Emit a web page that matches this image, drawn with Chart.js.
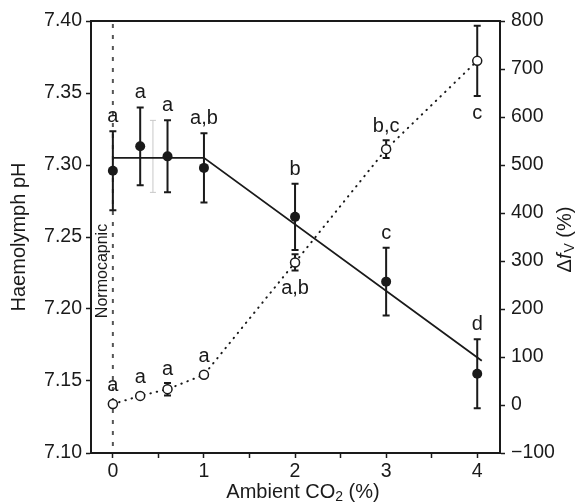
<!DOCTYPE html>
<html lang="en">
<head>
    <meta charset="UTF-8">
    <title>Haemolymph pH and ventilation vs ambient CO2</title>
    <script src="https://cdn.jsdelivr.net/npm/chart.js"></script>
    <style>
        html, body {
            margin: 0;
            padding: 0;
            background: #fff;
        }
        #chart {
            display: block;
        }
    </style>
</head>
<body>
<canvas id="chart" width="581" height="504"></canvas>
<script>
    // ambient CO2 levels (%)
    const co2 = [0, 0.3, 0.6, 1, 2, 3, 4];

    // haemolymph pH (filled circles, left axis)
    const phMean = [7.296, 7.313, 7.306, 7.298, 7.264, 7.219, 7.155];
    const phErr = [0.0275, 0.027, 0.025, 0.024, 0.023, 0.0235, 0.024];
    const phLetters = ['a', 'a', 'a', 'a,b', 'b', 'c', 'd'];

    // broken-line fit through the pH values
    const fitX = [0, 1, 4.05];
    const fitPh = [7.305, 7.305, 7.164];

    // change in ventilation frequency, delta fV (%) (open circles, right axis)
    const fvMean = [2, 19, 33, 63, 297, 533, 717];
    const fvErr = [0, 0, 13, 0, 17, 18.5, 73];
    const fvLetters = ['a', 'a', 'a', 'a', 'a,b', 'b,c', 'c'];
    const fvLetterSide = ['above', 'above', 'above', 'above', 'below', 'above', 'below'];

    // faint grey bar left in the original figure
    const greyBarX = [0.44];
    const greyBarLow = [7.281];
    const greyBarHigh = [7.331];

    const normoX = 0;

    const FONT = "'Liberation Sans', Arial, Helvetica, sans-serif";
    const INK = '#1a1a1a';

    const overlay = {
        id: 'overlay',
        beforeDatasetsDraw(chart) {
            const {ctx, chartArea: a, scales} = chart;
            const x = scales.x, y = scales.y, y2 = scales.y2;
            ctx.save();

            // normocapnic reference line
            const nx = x.getPixelForValue(normoX);
            ctx.strokeStyle = '#555';
            ctx.lineWidth = 2;
            ctx.setLineDash([4, 7]);
            ctx.beginPath();
            ctx.moveTo(nx, a.top + 3);
            ctx.lineTo(nx, a.bottom);
            ctx.stroke();
            ctx.setLineDash([]);

            // faint grey bar
            ctx.strokeStyle = '#c8c8c8';
            ctx.lineWidth = 1;
            greyBarX.forEach((gx, i) => {
                const px = x.getPixelForValue(gx);
                const top = y.getPixelForValue(greyBarHigh[i]);
                const bot = y.getPixelForValue(greyBarLow[i]);
                ctx.beginPath();
                ctx.moveTo(px, top); ctx.lineTo(px, bot);
                ctx.moveTo(px - 3, top); ctx.lineTo(px + 3, top);
                ctx.moveTo(px - 3, bot); ctx.lineTo(px + 3, bot);
                ctx.stroke();
            });

            // error bars
            ctx.strokeStyle = INK;
            ctx.lineWidth = 2;
            function bar(px, top, bot) {
                ctx.beginPath();
                ctx.moveTo(px, top); ctx.lineTo(px, bot);
                ctx.moveTo(px - 3.5, top); ctx.lineTo(px + 3.5, top);
                ctx.moveTo(px - 3.5, bot); ctx.lineTo(px + 3.5, bot);
                ctx.stroke();
            }
            co2.forEach((c, i) => {
                const px = x.getPixelForValue(c);
                bar(px, y.getPixelForValue(phMean[i] + phErr[i]), y.getPixelForValue(phMean[i] - phErr[i]));
                if (fvErr[i] > 0) {
                    bar(px, y2.getPixelForValue(fvMean[i] + fvErr[i]), y2.getPixelForValue(fvMean[i] - fvErr[i]));
                }
            });
            ctx.restore();
        },
        afterDraw(chart) {
            const {ctx, chartArea: a, scales} = chart;
            const x = scales.x, y = scales.y, y2 = scales.y2;
            ctx.save();

            // top frame line
            ctx.strokeStyle = INK;
            ctx.lineWidth = 2;
            ctx.beginPath();
            ctx.moveTo(a.left - 1, a.top);
            ctx.lineTo(a.right + 1, a.top);
            ctx.stroke();

            ctx.fillStyle = INK;
            ctx.font = '20px ' + FONT;
            ctx.textAlign = 'center';
            ctx.textBaseline = 'alphabetic';

            // significance letters, pH
            co2.forEach((c, i) => {
                const px = x.getPixelForValue(c);
                const top = y.getPixelForValue(phMean[i] + phErr[i]);
                ctx.fillText(phLetters[i], px, top - 9);
            });

            // significance letters, fV
            co2.forEach((c, i) => {
                const px = x.getPixelForValue(c);
                const cy = y2.getPixelForValue(fvMean[i]);
                if (fvLetterSide[i] === 'above') {
                    const top = Math.min(cy - 5, y2.getPixelForValue(fvMean[i] + fvErr[i]));
                    ctx.fillText(fvLetters[i], px, top - 8);
                } else {
                    const bot = Math.max(cy + 5, y2.getPixelForValue(fvMean[i] - fvErr[i]));
                    ctx.fillText(fvLetters[i], px, bot + 23);
                }
            });

            // Normocapnic label
            const nx = x.getPixelForValue(normoX);
            ctx.save();
            ctx.translate(nx - 10, 271);
            ctx.rotate(-Math.PI / 2);
            ctx.font = '16px ' + FONT;
            ctx.textBaseline = 'middle';
            ctx.fillText('Normocapnic', 0, 0);
            ctx.restore();

            // left axis title
            ctx.save();
            ctx.translate(19, (a.top + a.bottom) / 2);
            ctx.rotate(-Math.PI / 2);
            ctx.font = '20px ' + FONT;
            ctx.textBaseline = 'middle';
            ctx.fillText('Haemolymph pH', 0, 0);
            ctx.restore();

            // right axis title: Δf_V (%)
            ctx.save();
            ctx.translate(565, 240);
            ctx.rotate(-Math.PI / 2);
            ctx.textBaseline = 'middle';
            ctx.textAlign = 'left';
            const big = '20px ' + FONT, small = '14px ' + FONT;
            ctx.font = big;
            const w1 = ctx.measureText('\u0394f').width;
            const w3 = ctx.measureText(' (%)').width;
            ctx.font = small;
            const w2 = ctx.measureText('V').width;
            let sx = -(w1 + w2 + w3) / 2;
            ctx.font = big;
            ctx.fillText('\u0394', sx, 0);
            const wd = ctx.measureText('\u0394').width;
            ctx.font = 'italic 20px ' + FONT;
            ctx.fillText('f', sx + wd, 0);
            ctx.font = small;
            ctx.fillText('V', sx + w1 + 1, 5);
            ctx.font = big;
            ctx.fillText(' (%)', sx + w1 + w2 + 1, 0);
            ctx.restore();

            // x axis title: Ambient CO2 (%)
            ctx.save();
            ctx.textAlign = 'left';
            ctx.textBaseline = 'alphabetic';
            ctx.font = big;
            const t1 = ctx.measureText('Ambient CO').width;
            const t3 = ctx.measureText(' (%)').width;
            ctx.font = small;
            const t2 = ctx.measureText('2').width;
            let bx = 303 - (t1 + t2 + t3) / 2;
            const by = 498;
            ctx.font = big;
            ctx.fillText('Ambient CO', bx, by);
            ctx.font = small;
            ctx.fillText('2', bx + t1, by + 3);
            ctx.font = big;
            ctx.fillText(' (%)', bx + t1 + t2, by);
            ctx.restore();

            ctx.restore();
        }
    };

    const axisCommon = {
        grid: {
            drawOnChartArea: false,
            drawTicks: true,
            tickLength: 5,
            tickWidth: 1.5,
            tickColor: INK
        },
        border: { display: true, width: 2, color: INK },
        ticks: {
            color: INK,
            font: { family: FONT, size: 19.5 },
            includeBounds: false,
            autoSkip: false,
            maxRotation: 0
        }
    };

    new Chart(document.getElementById('chart'), {
        type: 'line',
        data: {
            datasets: [
                {
                    label: 'Haemolymph pH',
                    data: co2.map((c, i) => ({x: c, y: phMean[i]})),
                    yAxisID: 'y',
                    showLine: false,
                    pointRadius: 5,
                    pointBackgroundColor: INK,
                    pointBorderColor: INK,
                    pointBorderWidth: 0
                },
                {
                    label: 'fit',
                    data: fitX.map((c, i) => ({x: c, y: fitPh[i]})),
                    yAxisID: 'y',
                    borderColor: INK,
                    borderWidth: 1.8,
                    pointRadius: 0,
                    tension: 0
                },
                {
                    label: 'delta fV',
                    data: co2.map((c, i) => ({x: c, y: fvMean[i]})),
                    yAxisID: 'y2',
                    borderColor: INK,
                    borderWidth: 2,
                    borderDash: [0.5, 6],
                    borderCapStyle: 'round',
                    tension: 0,
                    pointRadius: 4.5,
                    pointBackgroundColor: '#fff',
                    pointBorderColor: INK,
                    pointBorderWidth: 1.5
                }
            ]
        },
        options: {
            responsive: false,
            animation: false,
            devicePixelRatio: 1,
            layout: { padding: { top: 21, left: 0, right: 0, bottom: 0 } },
            plugins: {
                legend: { display: false },
                tooltip: { enabled: false }
            },
            scales: {
                x: {
                    type: 'linear',
                    position: 'bottom',
                    min: -0.24,
                    max: 4.25,
                    ...axisCommon,
                    ticks: {
                        ...axisCommon.ticks,
                        stepSize: 0.5,
                        padding: 2,
                        callback: v => Number.isInteger(v) ? String(v) : ''
                    },
                    afterFit: s => { s.height = 51; }
                },
                y: {
                    type: 'linear',
                    position: 'left',
                    min: 7.10,
                    max: 7.40,
                    ...axisCommon,
                    ticks: {
                        ...axisCommon.ticks,
                        stepSize: 0.05,
                        padding: 4,
                        callback: v => v.toFixed(2)
                    },
                    afterFit: s => { s.width = 91; }
                },
                y2: {
                    type: 'linear',
                    position: 'right',
                    min: -100,
                    max: 800,
                    ...axisCommon,
                    ticks: {
                        ...axisCommon.ticks,
                        stepSize: 100,
                        padding: 6,
                        callback: v => v < 0 ? '\u2212' + Math.abs(v) : String(v)
                    },
                    afterFit: s => { s.width = 81; }
                }
            }
        },
        plugins: [overlay]
    });
</script>
</body>
</html>
